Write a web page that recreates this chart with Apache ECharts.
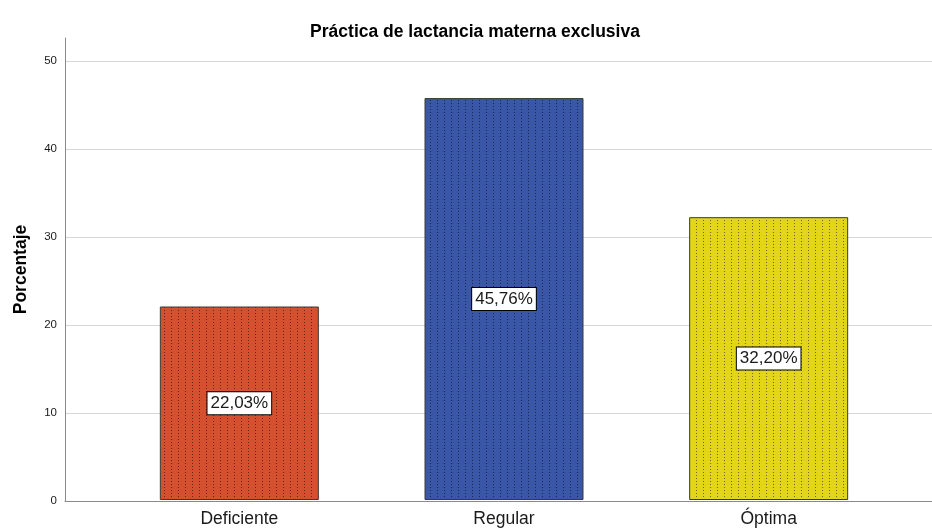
<!DOCTYPE html>
<html>
<head>
<meta charset="utf-8">
<script src="https://cdn.jsdelivr.net/npm/echarts@6/dist/echarts.min.js"></script>
<style>
html,body{margin:0;padding:0;background:#fff;}
#chart{width:932px;height:528px;}
</style>
</head>
<body>
<div id="chart"></div>
<script>
const categories = ['Deficiente', 'Regular', 'Óptima'];
const values = [22.03, 45.76, 32.20];
const valueLabels = ['22,03%', '45,76%', '32,20%'];
const yTicks = [0, 10, 20, 30, 40, 50];
const titleText = 'Práctica de lactancia materna exclusiva';
const yAxisName = 'Porcentaje';

const palette = ['#d4502f', '#3a57a7', '#e3d51a'];
const dotColors = ['#6e2414', '#1a2852', '#6f6810'];

function makePattern(base, dot) {
  const c = document.createElement('canvas');
  c.width = 7; c.height = 3;
  const ctx = c.getContext('2d');
  ctx.fillStyle = base; ctx.fillRect(0, 0, 7, 3);
  ctx.fillStyle = dot; ctx.fillRect(3, 1, 1, 1);
  return c;
}

const chart = echarts.init(document.getElementById('chart'), null, {renderer: 'canvas'});
const font = 'Arial, "Liberation Sans", sans-serif';
const YMAX = 52.6;

chart.setOption({
  animation: false,
  title: {
    text: titleText, left: 470, top: 18, textAlign: 'center',
    textStyle: {fontFamily: font, fontSize: 17.5, fontWeight: 'bold', color: '#000'}
  },
  grid: [
    {left: 65, right: 0, top: 38, bottom: 27},
    {left: 107, right: 31, top: 38, bottom: 27}
  ],
  xAxis: [
    {gridIndex: 0, type: 'value', min: 0, max: 1,
     axisLine: {show: true, lineStyle: {color: '#8a8a8a', width: 1}},
     axisTick: {show: false}, axisLabel: {show: false}, splitLine: {show: false}},
    {gridIndex: 1, type: 'category', data: categories,
     axisLine: {show: false}, axisTick: {show: false},
     axisLabel: {fontFamily: font, fontSize: 17.5, color: '#1a1a1a', margin: 10}}
  ],
  yAxis: [
    {gridIndex: 0, type: 'value', min: 0, max: YMAX, interval: 10,
     name: yAxisName, nameLocation: 'middle', nameGap: 35, nameRotate: 90,
     nameTextStyle: {fontFamily: font, fontSize: 17.5, fontWeight: 'bold', color: '#000'},
     axisLine: {show: true, lineStyle: {color: '#8a8a8a', width: 1}},
     axisTick: {show: false},
     axisLabel: {fontFamily: font, fontSize: 11.5, color: '#1a1a1a', margin: 8,
       formatter: v => yTicks.includes(v) ? String(v) : ''},
     splitLine: {show: true, showMaxLine: false, lineStyle: {color: '#d6d6d6', width: 1}}},
    {gridIndex: 1, type: 'value', min: 0, max: YMAX, show: false, splitLine: {show: false}}
  ],
  series: [{
    type: 'bar', xAxisIndex: 1, yAxisIndex: 1,
    barWidth: 159,
    data: values.map((v, i) => ({
      value: v,
      itemStyle: {
        color: {image: makePattern(palette[i], dotColors[i]), repeat: 'repeat'},
        borderColor: '#3a3a3a', borderWidth: 1
      },
      label: {formatter: valueLabels[i]}
    })),
    label: {
      show: true, position: 'inside',
      fontFamily: font, fontSize: 17, color: '#1a1a1a',
      backgroundColor: '#fff', borderColor: '#000', borderWidth: 1,
      padding: [3, 3, 2, 3]
    }
  }]
});
</script>
</body>
</html>
